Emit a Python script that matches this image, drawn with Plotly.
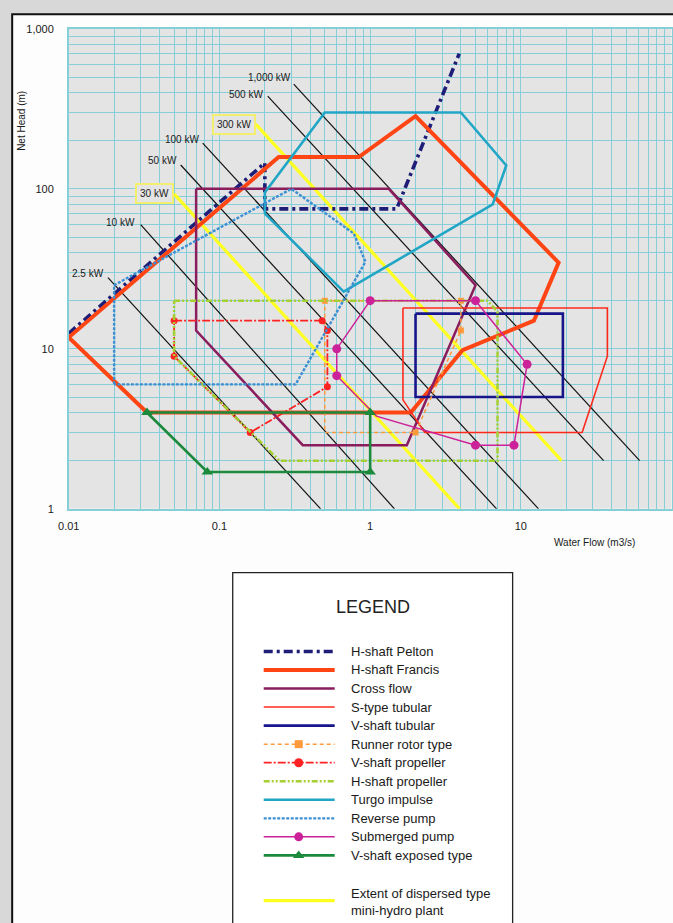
import math
import plotly.graph_objects as go

# ---------------------------------------------------------------------------
# Application ranges of small hydro turbines: water flow Q (m3/s) vs net head H (m)
# ---------------------------------------------------------------------------
pelton_q = [0.01, 0.2, 0.2, 1.5, 3.9]
pelton_h = [12.5, 145, 75, 75, 700]

francis_q = [0.01, 0.226, 0.247, 0.84, 2.0, 17.8, 12.2, 4.1, 1.86, 0.033, 0.01]
francis_h = [11.8, 145, 158, 158, 285, 34.6, 15, 9.8, 4.0, 4.0, 11.8]

crossflow_q = [0.07, 1.33, 5.0, 1.75, 0.357, 0.07, 0.07]
crossflow_h = [100, 100, 25, 2.5, 2.5, 13, 100]

stube_q = [1.65, 37.5, 37.5, 25.5, 2.3, 1.65, 1.65]
stube_h = [18, 18, 9, 3, 3, 4.8, 18]

vtube_q = [2, 19, 19, 2, 2]
vtube_h = [16.6, 16.6, 5, 5, 16.6]

rotor_q = [0.5, 4, 4, 2, 0.5, 0.5]
rotor_h = [20, 20, 13, 3, 3, 20]
rotor_mark_q = [0.5, 4, 4, 2]
rotor_mark_h = [20, 20, 13, 3]

vprop_q = [0.05, 0.48, 0.52, 0.52, 0.16, 0.05, 0.05]
vprop_h = [15, 15, 13, 5.8, 3, 9, 15]
vprop_mark_q = [0.05, 0.48, 0.52, 0.52, 0.16, 0.05]
vprop_mark_h = [15, 15, 13, 5.8, 3, 9]

hprop_q = [0.05, 6, 7, 7, 0.25, 0.05, 0.05]
hprop_h = [20, 20, 17.1, 2, 2, 9, 20]

turgo_q = [0.2, 0.2, 0.5, 4, 8, 6.5, 0.667, 0.2]
turgo_h = [70, 95, 300, 300, 140, 80, 22.8, 70]

revpump_q = [0.02, 0.02, 0.3, 0.78, 0.93, 0.32, 0.02]
revpump_h = [6, 25, 100, 52.5, 35, 6, 6]

subpump_q = [1.0, 0.6, 0.6, 1.1, 5.0, 9, 11, 5, 1.0]
subpump_h = [20, 10, 6.8, 3.8, 2.5, 2.5, 8, 20, 20]
subpump_mark_q = [1.0, 0.6, 0.6, 5.0, 9, 11, 5]
subpump_mark_h = [20, 10, 6.8, 2.5, 2.5, 8, 20]

vexposed_q = [0.033, 1.0, 1.0, 0.083, 0.033]
vexposed_h = [4, 4, 1.7, 1.7, 4]
vexposed_mark_q = [0.033, 1.0, 1.0, 0.083]
vexposed_mark_h = [4, 4, 1.7, 1.7]

# constant-output lines (kW): start and end points
power_labels = ["2.5 kW", "10 kW", "30 kW", "50 kW", "100 kW", "300 kW", "500 kW", "1,000 kW"]
power_q0 = [0.0182, 0.030, 0.050, 0.0553, 0.0774, 0.174, 0.209, 0.311]
power_h0 = [27.9, 59.7, 93, 141, 193, 254, 380, 451]
power_q1 = [0.469, 1.45, 3.92, 6.9, 13.1, 18.6, 35.4, 61.4]
power_h1 = [1, 1, 1, 1, 1, 2.0, 2.0, 2.0]
dispersed_labels = ["30 kW", "300 kW"]  # extent of dispersed type mini-hydro

x_tickvals = [0.01, 0.1, 1, 10, 100]
x_ticktext = ["0.01", "0.1", "1", "10", "100"]
y_tickvals = [1, 10, 100, 1000]
y_ticktext = ["1", "10", "100", "1,000"]

legend_names = [
    "H-shaft Pelton", "H-shaft Francis", "Cross flow", "S-type tubular",
    "V-shaft tubular", "Runner rotor type", "V-shaft propeller", "H-shaft propeller",
    "Turgo impulse", "Reverse pump", "Submerged pump", "V-shaft exposed type",
]
extent_name = "Extent of dispersed type<br>mini-hydro plant"

# ---------------------------------------------------------------------------
# styles
# ---------------------------------------------------------------------------
styles = {
    "H-shaft Pelton": dict(color="#1e1e78", width=3.6, dash="9px,4px,3px,4px"),
    "H-shaft Francis": dict(color="#ff4514", width=4),
    "Cross flow": dict(color="#8a1d5e", width=2.5),
    "S-type tubular": dict(color="#ff2a1c", width=1.6),
    "V-shaft tubular": dict(color="#16168a", width=2.6),
    "Runner rotor type": dict(color="#ff9a3c", width=1.5, dash="4px,3px"),
    "V-shaft propeller": dict(color="#ff2222", width=1.8, dash="8px,2px,2px,2px"),
    "H-shaft propeller": dict(color="#a6cf34", width=2.6, dash="6px,2px,2px,2px,2px,2px"),
    "Turgo impulse": dict(color="#22a6c6", width=2.6),
    "Reverse pump": dict(color="#3c8fd2", width=2.4, dash="3px,1.5px"),
    "Submerged pump": dict(color="#cc2299", width=1.5),
    "V-shaft exposed type": dict(color="#1b8a3c", width=2.6),
}
markers = {
    "Runner rotor type": dict(symbol="square", size=6, legend_size=8),
    "V-shaft propeller": dict(symbol="circle", size=7, legend_size=9),
    "Submerged pump": dict(symbol="circle", size=9, legend_size=9),
    "V-shaft exposed type": dict(symbol="triangle-up", size=10, legend_size=10),
}
extent_style = dict(color="#ffff22", width=3.2)
power_style = dict(color="#111111", width=1.2)
grid_color = "#86cfd8"
plot_bg = "#e4e4e4"
font_family = "Liberation Sans, Arial, sans-serif"
text_color = "#1a1a1a"
# label offsets (px) from each power line's start point
label_shift = {"1,000 kW": (-1, 7), "500 kW": (-3, 2), "10 kW": (-4, 2)}

# ---------------------------------------------------------------------------
# page geometry: layout positions below are given in window pixels.  The
# figure appears in the window offset and slightly scaled (window = ORIGIN +
# SCALE * figure pixel), so window pixels are mapped back to figure pixels.
# ---------------------------------------------------------------------------
W, H = 673, 923
ORIGIN_X, SCALE_X = 10.2, 0.984
ORIGIN_Y, SCALE_Y = 4.6, 0.990


def fx(p):
    return (p - ORIGIN_X) / SCALE_X / W


def fy(p):
    return 1 - (p - ORIGIN_Y) / SCALE_Y / H


px_left, px_right, px_top, px_bottom = 68, 671, 27.5, 509

series = [
    ("H-shaft Pelton", pelton_q, pelton_h, None, None),
    ("H-shaft Francis", francis_q, francis_h, None, None),
    ("Cross flow", crossflow_q, crossflow_h, None, None),
    ("S-type tubular", stube_q, stube_h, None, None),
    ("V-shaft tubular", vtube_q, vtube_h, None, None),
    ("Runner rotor type", rotor_q, rotor_h, rotor_mark_q, rotor_mark_h),
    ("V-shaft propeller", vprop_q, vprop_h, vprop_mark_q, vprop_mark_h),
    ("H-shaft propeller", hprop_q, hprop_h, None, None),
    ("Turgo impulse", turgo_q, turgo_h, None, None),
    ("Reverse pump", revpump_q, revpump_h, None, None),
    ("Submerged pump", subpump_q, subpump_h, subpump_mark_q, subpump_mark_h),
    ("V-shaft exposed type", vexposed_q, vexposed_h, vexposed_mark_q, vexposed_mark_h),
]

fig = go.Figure()

# constant power lines (black), dispersed-type extent lines (yellow) on top
for lab, q0, h0, q1, h1 in zip(power_labels, power_q0, power_h0, power_q1, power_h1):
    if lab in dispersed_labels:
        continue
    fig.add_trace(go.Scatter(x=[q0, q1], y=[h0, h1], mode="lines", line=power_style,
                             hoverinfo="skip", showlegend=False))
for lab, q0, h0, q1, h1 in zip(power_labels, power_q0, power_h0, power_q1, power_h1):
    if lab not in dispersed_labels:
        continue
    fig.add_trace(go.Scatter(x=[q0, q1], y=[h0, h1], mode="lines", line=extent_style,
                             hoverinfo="skip", showlegend=False))

# turbine application ranges
for name, q, h, mq, mh in series:
    st = styles[name]
    fig.add_trace(go.Scatter(x=q, y=h, mode="lines", name=name,
                             line=dict(color=st["color"], width=st["width"], dash=st.get("dash", "solid")),
                             showlegend=False))
    if mq is not None:
        mk = markers[name]
        fig.add_trace(go.Scatter(x=mq, y=mh, mode="markers", name=name,
                                 marker=dict(symbol=mk["symbol"], size=mk["size"], color=st["color"],
                                             line=dict(width=0)),
                                 showlegend=False))

annotations = []
# power line labels at each line's upper-left end
for lab, q0, h0 in zip(power_labels, power_q0, power_h0):
    boxed = lab in dispersed_labels
    ann = dict(x=math.log10(q0), y=math.log10(h0), xref="x", yref="y", text=lab,
               showarrow=False, xanchor="right", yanchor="middle",
               font=dict(size=10, color=text_color, family=font_family))
    if boxed:
        ann.update(bordercolor="#f4ee6e", borderwidth=2, borderpad=3, bgcolor=plot_bg,
                   xshift=0, yshift=0)
    else:
        dx, dy = label_shift.get(lab, (-2, 4))
        ann.update(xshift=dx, yshift=dy)
    annotations.append(ann)

# axis titles
annotations.append(dict(x=20, y=120, xref="x2", yref="y2", text="Net Head (m)", textangle=-90,
                        showarrow=False, font=dict(size=10, color=text_color, family=font_family)))
annotations.append(dict(x=594, y=543, xref="x2", yref="y2", text="Water Flow (m3/s)",
                        showarrow=False, font=dict(size=10, color=text_color, family=font_family)))

# legend panel
legend_box = (232, 573, 512, 960)
annotations.append(dict(x=372, y=607, xref="x2", yref="y2", text="LEGEND", showarrow=False,
                        font=dict(size=18, color="#222222", family=font_family)))
row_y0, row_step = 652, 18.6
sample_x0, sample_x1, sample_mid, text_x = 263, 334, 298, 348
for i, name in enumerate(legend_names):
    yy = row_y0 + i * row_step
    st = styles[name]
    fig.add_trace(go.Scatter(x=[sample_x0, sample_x1], y=[yy, yy], xaxis="x2", yaxis="y2",
                             mode="lines", hoverinfo="skip", showlegend=False,
                             line=dict(color=st["color"], width=st["width"], dash=st.get("dash", "solid"))))
    if name in markers:
        mk = markers[name]
        fig.add_trace(go.Scatter(x=[sample_mid], y=[yy], xaxis="x2", yaxis="y2", mode="markers",
                                 hoverinfo="skip", showlegend=False,
                                 marker=dict(symbol=mk["symbol"], size=mk["legend_size"],
                                             color=st["color"], line=dict(width=0))))
    annotations.append(dict(x=text_x, y=yy, xref="x2", yref="y2", text=name, showarrow=False,
                            xanchor="left", yanchor="middle",
                            font=dict(size=13, color=text_color, family=font_family)))
extent_y = 902
fig.add_trace(go.Scatter(x=[sample_x0, sample_x1], y=[extent_y, extent_y], xaxis="x2", yaxis="y2",
                         mode="lines", hoverinfo="skip", showlegend=False, line=extent_style))
annotations.append(dict(x=text_x, y=extent_y + 1, xref="x2", yref="y2", text=extent_name,
                        showarrow=False, xanchor="left", yanchor="middle", align="left",
                        font=dict(size=13, color=text_color, family=font_family)))

minor_vals_x = [m * 10 ** e for e in range(-2, 2) for m in range(2, 10)]
minor_vals_y = [m * 10 ** e for e in range(0, 3) for m in range(2, 10)]

shapes = [
    # page frame
    dict(type="rect", xref="paper", yref="paper", x0=max(fx(9), 1.2 / W), x1=1.05, y0=fy(13), y1=-0.05,
         line=dict(color="#111111", width=2), fillcolor="#fdfdfd", layer="below"),
    # legend panel
    dict(type="rect", xref="paper", yref="paper", x0=fx(legend_box[0]), x1=fx(legend_box[2]),
         y0=fy(legend_box[1]), y1=fy(legend_box[3]),
         line=dict(color="#222222", width=1.3), fillcolor="#ffffff", layer="below"),
    # plotting area background
    dict(type="rect", xref="x domain", yref="y domain", x0=0, x1=1, y0=0, y1=1,
         line=dict(width=0), fillcolor=plot_bg, layer="below"),
]

fig.update_layout(
    width=W, height=H, margin=dict(l=0, r=0, t=0, b=0),
    paper_bgcolor="#d8d8d8", plot_bgcolor="rgba(0,0,0,0)",
    font=dict(family=font_family, color=text_color),
    showlegend=False,
    xaxis=dict(type="log", range=[-2, 2], domain=[fx(px_left), min(1.0, fx(px_right))],
               tickvals=x_tickvals, ticktext=x_ticktext, ticks="", ticklabelstandoff=6,
               tickfont=dict(size=11, color=text_color),
               showgrid=True, gridcolor=grid_color, gridwidth=1, zeroline=False,
               showline=True, linecolor=grid_color, linewidth=1.5, mirror=True,
               minor=dict(tickvals=minor_vals_x, showgrid=True, gridcolor=grid_color, gridwidth=1, ticks=""),
               fixedrange=True),
    yaxis=dict(type="log", range=[0, 3], domain=[fy(px_bottom), fy(px_top)],
               tickvals=y_tickvals, ticktext=y_ticktext, ticks="", ticklabelstandoff=11,
               tickfont=dict(size=11, color=text_color),
               showgrid=True, gridcolor=grid_color, gridwidth=1, zeroline=False,
               showline=True, linecolor=grid_color, linewidth=1.5, mirror=True,
               minor=dict(tickvals=minor_vals_y, showgrid=True, gridcolor=grid_color, gridwidth=1, ticks=""),
               fixedrange=True),
    # window-pixel overlay used for the legend panel and free text
    xaxis2=dict(domain=[0, 1], range=[ORIGIN_X, ORIGIN_X + SCALE_X * W], anchor="y2",
                visible=False, fixedrange=True),
    yaxis2=dict(domain=[0, 1], range=[ORIGIN_Y + SCALE_Y * H, ORIGIN_Y], anchor="x2",
                visible=False, fixedrange=True),
    shapes=shapes,
    annotations=annotations,
)

fig.write_html("out.html")
